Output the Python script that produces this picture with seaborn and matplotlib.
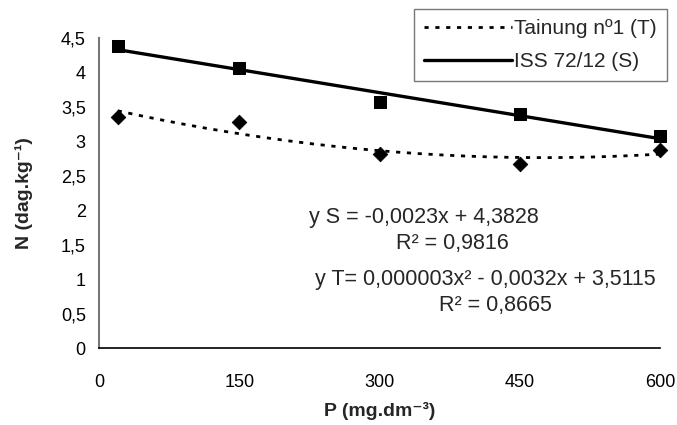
import numpy as np
import pandas as pd
import matplotlib
matplotlib.use("Agg")
import matplotlib.pyplot as plt
import seaborn as sns

# Phosphorus doses (mg.dm-3) and leaf nitrogen (dag.kg-1) for two cultivars
p_dose = [20, 150, 300, 450, 600]
n_tainung = [3.36, 3.28, 2.82, 2.67, 2.87]
n_iss = [4.38, 4.06, 3.57, 3.40, 3.08]

x_ticks = [0, 150, 300, 450, 600]
y_ticks = [0, 0.5, 1, 1.5, 2, 2.5, 3, 3.5, 4, 4.5]

eq_s = "y S = -0,0023x + 4,3828"
r2_s = "R² = 0,9816"
eq_t = "y T= 0,000003x² - 0,0032x + 3,5115"
r2_t = "R² = 0,8665"

FS_TICK = 13
FS_EQ = 15.5
FS_LEG = 15
FS_LAB = 14

sns.set_theme(style="white")
plt.rcParams["font.family"] = ["Liberation Sans", "DejaVu Sans"]

fig = plt.figure(figsize=(6.77, 4.25), dpi=100)
ax = fig.add_axes([0.1462, 0.181, 0.829, 0.7296])

# Trend lines fitted to the observed points
xs = np.linspace(min(p_dose), max(p_dose), 200)
fit_s = np.polyfit(p_dose, n_iss, 1)
fit_t = np.polyfit(p_dose, n_tainung, 2)
trend = pd.DataFrame({"x": xs,
                      "S": np.polyval(fit_s, xs),
                      "T": np.polyval(fit_t, xs)})

sns.lineplot(data=trend, x="x", y="T", ax=ax, color="black", lw=2.0,
             linestyle=(0, (1.5, 2.4)), label="Tainung nº1 (T)")
sns.lineplot(data=trend, x="x", y="S", ax=ax, color="black", lw=2.4,
             label="ISS 72/12 (S)")

pts = pd.DataFrame({"P": p_dose, "T": n_tainung, "S": n_iss})
sns.scatterplot(data=pts, x="P", y="T", ax=ax, marker="D", s=55,
                color="black", edgecolor="black", clip_on=False, zorder=5)
sns.scatterplot(data=pts, x="P", y="S", ax=ax, marker="s", s=85,
                color="black", edgecolor="black", clip_on=False, zorder=5)

ax.set_xlim(0, 600)
ax.set_ylim(0, 4.5)
ax.set_xticks(x_ticks)
ax.set_xticklabels([str(v) for v in x_ticks])
ax.set_yticks(y_ticks)
ax.set_yticklabels([f"{v:g}".replace(".", ",") for v in y_ticks])
ax.tick_params(axis="both", which="major", direction="inout", length=9,
               width=1, color="#666666", labelsize=FS_TICK, labelcolor="black")
ax.tick_params(axis="x", pad=14)
ax.tick_params(axis="y", pad=5)

for side in ["top", "right"]:
    ax.spines[side].set_visible(False)
ax.spines["left"].set_color("#777777")
ax.spines["left"].set_linewidth(1.5)
ax.spines["bottom"].set_color("black")
ax.spines["bottom"].set_linewidth(1.2)

ax.set_xlabel("P (mg.dm⁻³)", fontsize=FS_LAB, fontweight="bold", labelpad=8)
ax.set_ylabel("N (dag.kg⁻¹)", fontsize=FS_LAB, fontweight="bold", labelpad=20)

# Regression equations
fig.text(309 / 677, 1 - 218 / 425, eq_s, fontsize=FS_EQ, ha="left", va="center")
fig.text(452 / 677, 1 - 244 / 425, r2_s, fontsize=FS_EQ, ha="center", va="center")
fig.text(315 / 677, 1 - 280 / 425, eq_t, fontsize=FS_EQ, ha="left", va="center")
fig.text(495 / 677, 1 - 306 / 425, r2_t, fontsize=FS_EQ, ha="center", va="center")

leg = ax.legend(loc="upper right", bbox_to_anchor=(667 / 677, 1 - 9 / 425),
                bbox_transform=fig.transFigure, fontsize=FS_LEG, frameon=True,
                fancybox=False, edgecolor="#555555", handlelength=4.2,
                handletextpad=0.1, borderpad=0.5, labelspacing=0.65,
                borderaxespad=0)
leg.get_frame().set_linewidth(1.0)

fig.savefig("out.png", dpi=100)
